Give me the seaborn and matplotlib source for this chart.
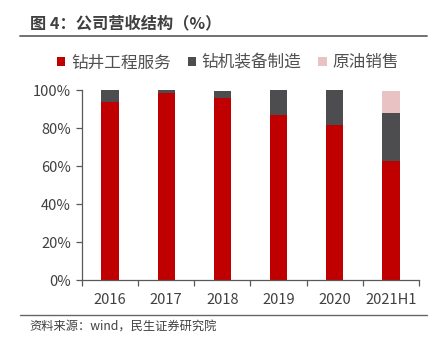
import matplotlib
matplotlib.use("Agg")
import matplotlib.pyplot as plt
import seaborn as sns
import pandas as pd
import numpy as np
from matplotlib.patches import Patch
from matplotlib.lines import Line2D

categories = ["2016", "2017", "2018", "2019", "2020", "2021H1"]
drilling = [93.7, 98.6, 95.8, 87.0, 81.4, 62.5]
equipment = [6.3, 1.4, 3.7, 13.0, 18.6, 25.5]
crude = [0.0, 0.0, 0.0, 0.0, 0.0, 11.5]
series_names = ["钻井工程服务", "钻机装备制造", "原油销售"]
colors = ["#C00000", "#4D4D4F", "#E9C3C3"]
title = "图 4：公司营收结构（%）"
source = "资料来源：wind，民生证券研究院"

sns.set_theme(style="white")
plt.rcParams["font.family"] = ["Noto Sans CJK SC", "DejaVu Sans"]

fig = plt.figure(figsize=(4.31, 3.46), dpi=100)
ax = fig.add_axes([82 / 431, 1 - 280 / 346, (419 - 82) / 431, 190 / 346])

d = np.array(drilling) / 100
e = np.array(equipment) / 100
c = np.array(crude) / 100
layers = [d + e + c, d + e, d]
layer_colors = [colors[2], colors[1], colors[0]]
for vals, col in zip(layers, layer_colors):
    df = pd.DataFrame({"cat": categories, "val": vals})
    sns.barplot(data=df, x="cat", y="val", color=col, width=0.31,
                saturation=1, ax=ax, edgecolor="none", linewidth=0)

ax.set_xlim(-0.5, len(categories) - 0.5)
ax.set_ylim(0, 1)
ax.set_yticks(np.linspace(0, 1, 6))
ax.set_yticklabels([f"{int(v)}%" for v in np.linspace(0, 100, 6)])
ax.set_xlabel("")
ax.set_ylabel("")
for s in ["top", "right"]:
    ax.spines[s].set_visible(False)
for s in ["left", "bottom"]:
    ax.spines[s].set_color("#595959")
    ax.spines[s].set_linewidth(0.9)
ax.set_xticks(np.arange(-0.5, len(categories), 1), minor=True)
ax.tick_params(axis="x", which="major", length=0, labelsize=10.5, colors="#404040", pad=9)
ax.tick_params(axis="x", which="minor", length=4, width=0.9, color="#595959", direction="out", bottom=True)
ax.tick_params(axis="y", length=4, width=0.9, color="#595959", direction="out", left=True,
               labelsize=10.5, labelcolor="#404040", pad=4)

handles = [Patch(facecolor=col, edgecolor="none") for col in colors]
fig.legend(handles, series_names, loc="center", bbox_to_anchor=(228 / 431, 1 - 63 / 346),
           ncol=3, frameon=False, fontsize=12, handlelength=0.5, handleheight=0.5,
           handletextpad=0.35, columnspacing=1.0, labelcolor="#505050")

fig.text(30 / 431, 1 - 23 / 346, title, fontsize=11.7, fontweight="bold",
         color="#404040", va="center", ha="left")
fig.add_artist(Line2D([20 / 431, 427 / 431], [1 - 36 / 346, 1 - 36 / 346],
                      color="#666666", linewidth=1.3, transform=fig.transFigure))
fig.add_artist(Line2D([20 / 431, 427 / 431], [1 - 315 / 346, 1 - 315 / 346],
                      color="#666666", linewidth=1.0, transform=fig.transFigure))
fig.text(29 / 431, 1 - 327 / 346, source, fontsize=8.8, color="#404040",
         va="center", ha="left")

fig.savefig("out.png", dpi=100)
